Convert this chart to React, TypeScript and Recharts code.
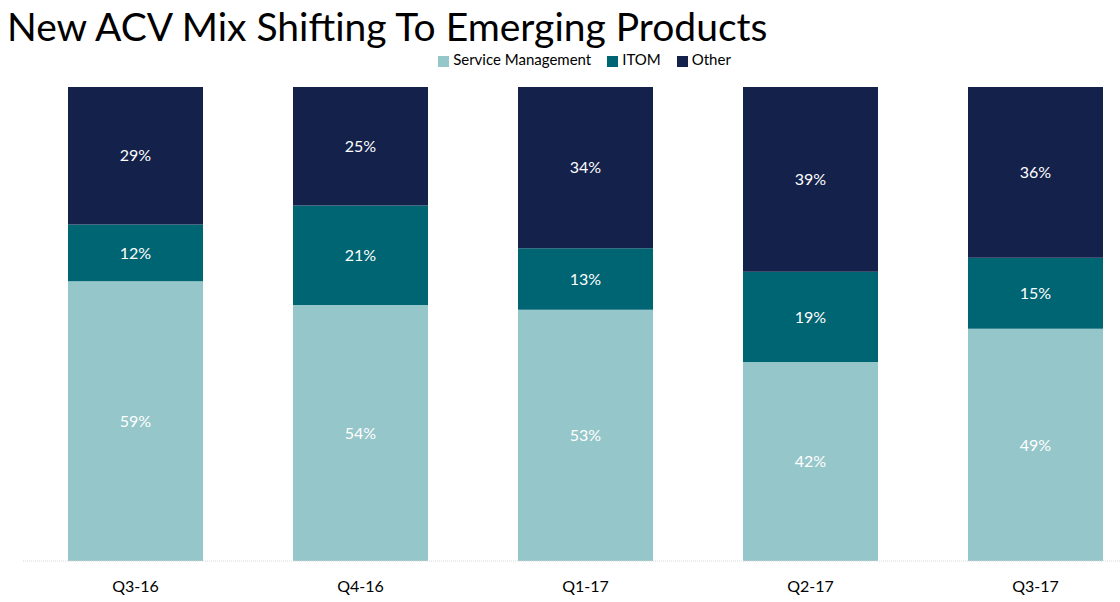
import { Bar, BarChart, XAxis, YAxis, Legend, LabelList } from 'recharts';

const categories = ['Q3-16', 'Q4-16', 'Q1-17', 'Q2-17', 'Q3-17'];
const serviceManagement = [59, 54, 53, 42, 49];
const itom = [12, 21, 13, 19, 15];
const other = [29, 25, 34, 39, 36];

const data = categories.map((quarter, i) => ({
    quarter,
    serviceManagement: serviceManagement[i],
    itom: itom[i],
    other: other[i],
}));

const FONT = 'Lato, "Open Sans", sans-serif';

const pct = (v: any) => `${v}%`;

export default function App() {
    return (
        <div style={{ position: 'fixed', left: 0, top: 0, width: 1120, height: 602, overflow: 'hidden', background: '#fff', fontFamily: FONT }}>
            <div style={{ position: 'absolute', left: 7, top: 2, fontSize: 39, color: '#000', whiteSpace: 'nowrap', lineHeight: '48px' }}>
                New ACV Mix Shifting To Emerging Products
            </div>
            <BarChart width={1148} height={602} data={data} margin={{ top: 69, right: 0, left: 23, bottom: 0 }} barSize={135}>
                <XAxis
                    dataKey="quarter"
                    height={41}
                    tickLine={false}
                    axisLine={{ stroke: '#d9d9d9', strokeDasharray: '1 1' }}
                    tick={{ fill: '#000', fontSize: 16, fontFamily: FONT }}
                    tickMargin={14}
                />
                <YAxis hide domain={[0, 100]} />
                <Legend
                    verticalAlign="top"
                    align="center"
                    iconType="square"
                    iconSize={11}
                    itemSorter={null}
                    wrapperStyle={{ top: 50, left: 30, fontSize: 15, fontFamily: FONT }}
                    formatter={(value: string) => <span style={{ color: '#000', marginRight: 6 }}>{value}</span>}
                />
                <Bar dataKey="serviceManagement" name="Service Management" stackId="a" fill="#95c6c9" isAnimationActive={false}>
                    <LabelList dataKey="serviceManagement" position="center" formatter={pct} fill="#fff" fontSize={16} fontFamily={FONT} />
                </Bar>
                <Bar dataKey="itom" name="ITOM" stackId="a" fill="#006573" isAnimationActive={false}>
                    <LabelList dataKey="itom" position="center" formatter={pct} fill="#fff" fontSize={16} fontFamily={FONT} />
                </Bar>
                <Bar dataKey="other" name="Other" stackId="a" fill="#14214b" isAnimationActive={false}>
                    <LabelList dataKey="other" position="center" formatter={pct} fill="#fff" fontSize={16} fontFamily={FONT} />
                </Bar>
            </BarChart>
        </div>
    );
}
